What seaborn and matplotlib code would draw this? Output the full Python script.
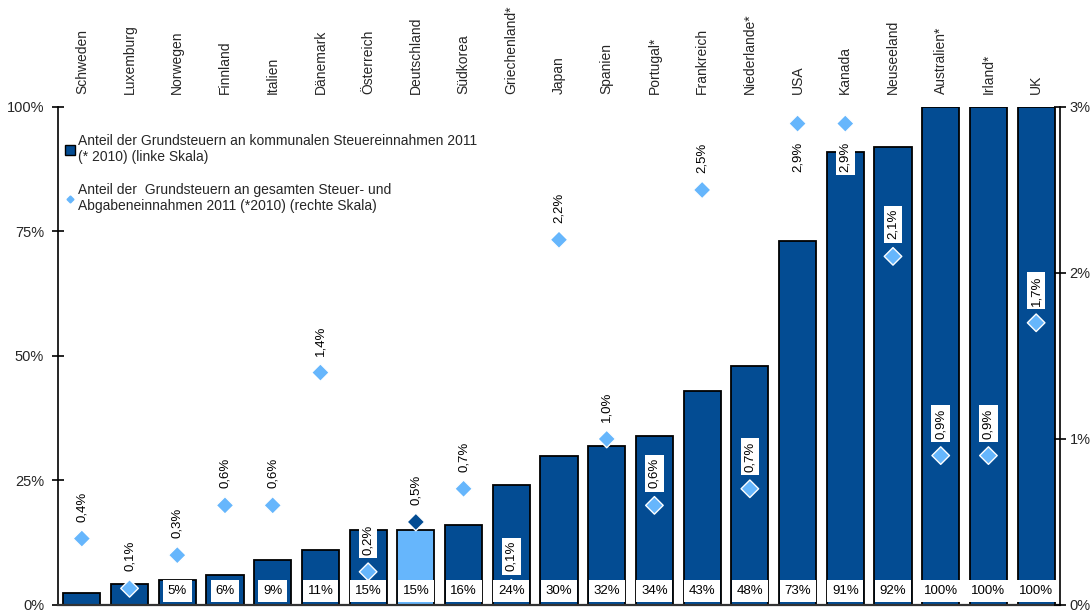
import matplotlib
matplotlib.use("Agg")
import matplotlib.pyplot as plt
from matplotlib.lines import Line2D
import seaborn as sns
import pandas as pd

sns.set_theme(style="white")
plt.rcParams["font.family"] = ["Liberation Sans", "DejaVu Sans"]

# Countries, ordered by share of property tax in municipal tax revenue
countries = ["Schweden", "Luxemburg", "Norwegen", "Finnland", "Italien", "Dänemark",
             "Österreich", "Deutschland", "Südkorea", "Griechenland*", "Japan", "Spanien",
             "Portugal*", "Frankreich", "Niederlande*", "USA", "Kanada", "Neuseeland",
             "Australien*", "Irland*", "UK"]

# Share of property tax in municipal tax revenue 2011, in % (left scale)
municipal_share = [2.4, 4.2, 5, 6, 9, 11, 15, 15, 16, 24, 30, 32, 34, 43, 48,
                   73, 91, 92, 100, 100, 100]

# Share of property tax in total tax and levy revenue 2011, in % (right scale)
total_share = [0.4, 0.1, 0.3, 0.6, 0.6, 1.4, 0.2, 0.5, 0.7, 0.1, 2.2, 1.0, 0.6,
               2.5, 0.7, 2.9, 2.9, 2.1, 0.9, 0.9, 1.7]

DARK = "#034C93"
LIGHT = "#66B6FC"
HIGHLIGHT = "Deutschland"

df = pd.DataFrame({"land": countries, "kommunal": municipal_share, "gesamt": total_share})
bar_colors = {c: (LIGHT if c == HIGHLIGHT else DARK) for c in countries}
pt_colors = {c: (DARK if c == HIGHLIGHT else LIGHT) for c in countries}

fig = plt.figure(figsize=(10.92, 6.13), dpi=100)
ax = fig.add_axes([0.0531, 0.0131, 0.9176, 0.8124])

sns.barplot(data=df, x="land", y="kommunal", hue="land", palette=bar_colors,
            order=countries, width=0.78, saturation=1, edgecolor="black",
            linewidth=1.3, legend=False, ax=ax, zorder=2)

ax.set_ylim(0, 100)
ax.set_xlim(-0.5, len(countries) - 0.5)
ax.set_yticks([0, 25, 50, 75, 100])
ax.set_yticklabels([f"{v}%" for v in [0, 25, 50, 75, 100]], fontsize=10.5)
ax.set_xlabel("")
ax.set_ylabel("")
ax.xaxis.tick_top()
ax.tick_params(axis="x", length=0, pad=9, labelsize=10, labelrotation=90)
ax.tick_params(axis="y", direction="inout", length=8, width=1.2, color="black",
               left=True, pad=6)
for s in ["top", "right"]:
    ax.spines[s].set_visible(False)
ax.spines["left"].set_color("black")
ax.spines["left"].set_linewidth(1.2)
ax.spines["bottom"].set_color("#333333")
ax.spines["bottom"].set_linewidth(1.6)
ax.spines["bottom"].set_zorder(5)

ax2 = ax.twinx()
ax2.set_ylim(0, 3)
sns.scatterplot(data=df, x="land", y="gesamt", hue="land", palette=pt_colors,
                marker="D", s=80, edgecolor="white", linewidth=1.0,
                legend=False, ax=ax2, zorder=3)
ax2.set_ylabel("")
ax2.set_yticks([0, 1, 2, 3])
ax2.set_yticklabels([f"{v}%" for v in [0, 1, 2, 3]], fontsize=10.5)
ax2.tick_params(axis="y", direction="inout", length=8, width=1.2, color="black",
                right=True, pad=3)
for s in ["top", "left", "bottom"]:
    ax2.spines[s].set_visible(False)
ax2.spines["right"].set_color("black")
ax2.spines["right"].set_linewidth(1.2)

# Value labels for the right-scale points (above, or below when near the top)
for i, v in enumerate(total_share):
    txt = f"{v:.1f}%".replace(".", ",")
    below = v > 2.7
    ax2.annotate(txt, xy=(i, v), xytext=(0, -18 if below else 17),
                 textcoords="offset pixels",
                 rotation=90, ha="center", va="top" if below else "bottom",
                 fontsize=9.5, color="black", zorder=6,
                 bbox=dict(boxstyle="square,pad=0.25", fc="white", ec="none"))

# Bar value labels in white boxes at the foot of the bars
for i, v in enumerate(municipal_share):
    if v < 5:
        continue
    ax2.annotate(f"{v:.0f}%", xy=(i, 0), xycoords=ax.transData,
                 xytext=(0, 14), textcoords="offset pixels",
                 ha="center", va="center", fontsize=9.5, color="black", zorder=7,
                 bbox=dict(boxstyle="square,pad=0.35", fc="white", ec="none"))

handles = [
    Line2D([], [], marker="s", linestyle="none", markersize=7,
           markerfacecolor=DARK, markeredgecolor="black", markeredgewidth=1.0),
    Line2D([], [], marker="D", linestyle="none", markersize=3.5,
           markerfacecolor=LIGHT, markeredgecolor=LIGHT),
]
labels = [
    "Anteil der Grundsteuern an kommunalen Steuereinnahmen 2011\n(* 2010) (linke Skala)",
    "Anteil der  Grundsteuern an gesamten Steuer- und\nAbgabeneinnahmen 2011 (*2010) (rechte Skala)",
]
leg = ax2.legend(handles, labels, loc="upper left", bbox_to_anchor=(0.0, 0.962),
                 frameon=False, fontsize=10, handlelength=0.6, handletextpad=0.25,
                 labelspacing=1.35, borderaxespad=0.2)
leg.set_zorder(10)

fig.savefig("out.png", dpi=100)
